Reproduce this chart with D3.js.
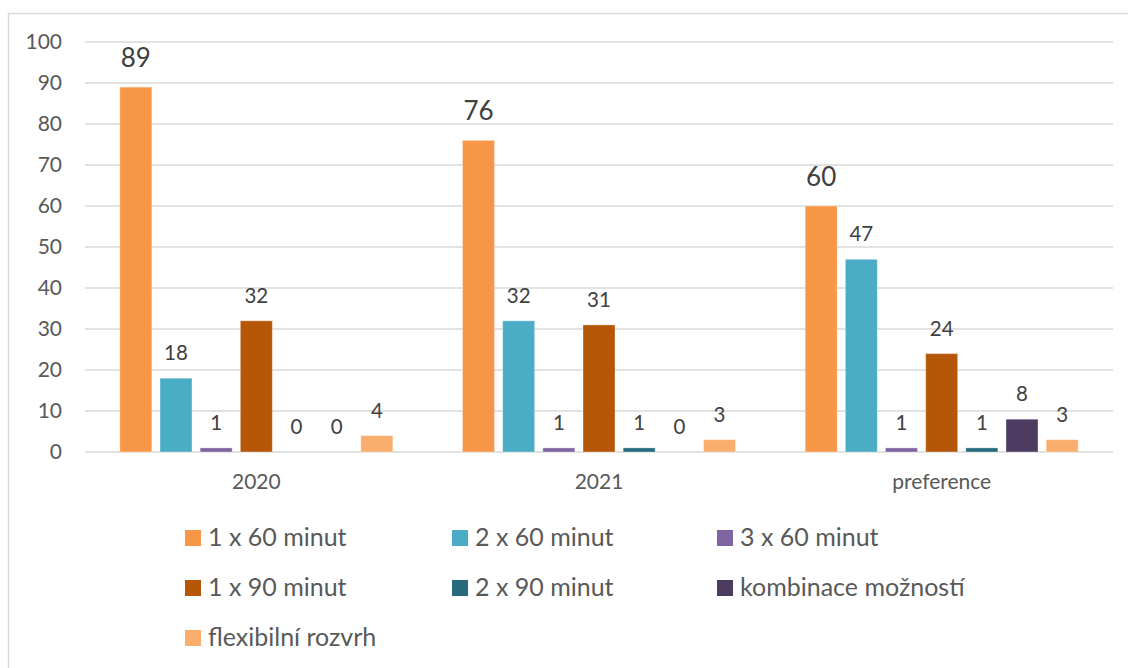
<!DOCTYPE html>
<html><head><meta charset="utf-8">
<script src="https://cdn.jsdelivr.net/npm/d3@7"></script>
<style>body{margin:0;background:#fff;} svg{display:block;font-family:Lato,"Open Sans",sans-serif;}</style>
</head><body>
<script>
const categories = ["2020", "2021", "preference"];
const seriesNames = ["1 x 60 minut", "2 x 60 minut", "3 x 60 minut", "1 x 90 minut", "2 x 90 minut", "kombinace možností", "flexibilní rozvrh"];
const seriesColors = ["#F79646", "#4BACC6", "#8064A2", "#B65708", "#276A7C", "#4D3B62", "#F9AE6E"];
const v_1x60 = [89, 76, 60];
const v_2x60 = [18, 32, 47];
const v_3x60 = [1, 1, 1];
const v_1x90 = [32, 31, 24];
const v_2x90 = [0, 1, 1];
const v_komb = [0, 0, 8];
const v_flex = [4, 3, 3];
const yTicks = [0, 10, 20, 30, 40, 50, 60, 70, 80, 90, 100];

const seriesValues = [v_1x60, v_2x60, v_3x60, v_1x90, v_2x90, v_komb, v_flex];

const W = 1128, H = 668;
const svg = d3.select("body").append("svg").attr("width", W).attr("height", H);

// chart frame
svg.append("rect").attr("x", 8.5).attr("y", 13.5).attr("width", W + 10).attr("height", H + 10)
  .attr("fill", "#fff").attr("stroke", "#d9d9d9").attr("stroke-width", 1.5);

const plot = {left: 85, right: 1113, top: 42, bottom: 452};
const clusterW = 273;
const x0 = d3.scaleBand().domain(categories).range([plot.left, plot.right]);
const x1 = d3.scaleBand().domain(d3.range(seriesNames.length)).range([0, clusterW]).paddingInner(0.2034);
const y = d3.scaleLinear().domain([0, 100]).range([plot.bottom, plot.top]);

// gridlines
svg.append("g").selectAll("line").data(yTicks).join("line")
  .attr("x1", plot.left).attr("x2", plot.right)
  .attr("y1", d => y(d)).attr("y2", d => y(d))
  .attr("stroke", "#d9d9d9").attr("stroke-width", 1.5);

// y axis labels
const yAxis = d3.axisLeft(y).tickValues(yTicks).tickSize(0).tickPadding(0);
const ya = svg.append("g").attr("transform", `translate(62,0)`).call(yAxis);
ya.select(".domain").remove();
ya.selectAll("text").attr("font-size", 21).attr("fill", "#595959").attr("font-family", "Lato");

// x axis labels
const xAxis = d3.axisBottom(x0).tickSize(0).tickPadding(0);
const xa = svg.append("g").attr("transform", `translate(0,${plot.bottom + 22})`).call(xAxis);
xa.select(".domain").remove();
xa.selectAll("text").attr("font-size", 21).attr("fill", "#595959").attr("font-family", "Lato");

// bars
seriesNames.forEach((name, si) => {
  const g = svg.append("g");
  const vals = seriesValues[si];
  g.selectAll("rect").data(categories).join("rect")
    .attr("x", (c) => x0(c) + x0.bandwidth() / 2 - clusterW / 2 + x1(si))
    .attr("width", x1.bandwidth())
    .attr("y", (c, i) => y(vals[i]))
    .attr("height", (c, i) => y(0) - y(vals[i]))
    .attr("fill", seriesColors[si])
    .attr("stroke", "rgba(255,255,255,0.35)").attr("stroke-width", 1);
  g.selectAll("text").data(categories).join("text")
    .attr("x", (c) => x0(c) + x0.bandwidth() / 2 - clusterW / 2 + x1(si) + x1.bandwidth() / 2)
    .attr("y", (c, i) => y(vals[i]) - (si === 0 ? 20 : 18))
    .attr("text-anchor", "middle")
    .attr("font-size", si === 0 ? 26 : 20.5)
    .attr("fill", "#404040")
    .text((c, i) => vals[i]);
});

// legend
const legCols = [185, 452, 717];
const legRows = [530, 580, 630];
const leg = svg.append("g");
seriesNames.forEach((name, i) => {
  const cx = legCols[i % 3], cy = legRows[Math.floor(i / 3)];
  leg.append("rect").attr("x", cx).attr("y", cy).attr("width", 16).attr("height", 16).attr("fill", seriesColors[i]);
  leg.append("text").attr("x", cx + 23).attr("y", cy + 16).attr("font-size", 25)
    .attr("fill", "#595959").text(name);
});
</script>
</body></html>
